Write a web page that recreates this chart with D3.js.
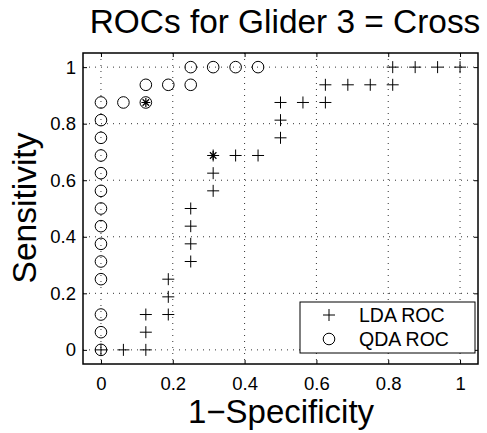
<!DOCTYPE html>
<html>
<head>
<meta charset="utf-8">
<script src="https://cdn.jsdelivr.net/npm/d3@7/dist/d3.min.js"></script>
<style>
  html, body { margin: 0; padding: 0; background: #fff; }
  svg { display: block; font-family: "Liberation Sans", Arial, Helvetica, sans-serif; }
</style>
</head>
<body>
<svg id="chart" width="487" height="433"></svg>
<script>
// ---- data ----
const titleText = "ROCs for Glider 3 = Cross";
const xLabelText = "1\u2212Specificity";
const yLabelText = "Sensitivity";
const tickValues = [0, 0.2, 0.4, 0.6, 0.8, 1];
const tickLabels = ["0", "0.2", "0.4", "0.6", "0.8", "1"];
const seriesNames = ["LDA ROC", "QDA ROC"];

const ldaX = [0, 0.0625, 0.125, 0.125, 0.125, 0.1875, 0.1875, 0.1875, 0.25, 0.25, 0.25, 0.25,
              0.3125, 0.3125, 0.3125, 0.375, 0.4375, 0.5, 0.5, 0.5, 0.5625, 0.625, 0.625,
              0.6875, 0.75, 0.8125, 0.8125, 0.875, 0.9375, 1];
const ldaY = [0, 0, 0, 0.0625, 0.125, 0.125, 0.1875, 0.25, 0.3125, 0.375, 0.4375, 0.5,
              0.5625, 0.625, 0.6875, 0.6875, 0.6875, 0.75, 0.8125, 0.875, 0.875, 0.875, 0.9375,
              0.9375, 0.9375, 0.9375, 1, 1, 1, 1];

const qdaX = [0, 0, 0, 0, 0, 0, 0, 0, 0, 0, 0, 0, 0, 0,
              0.0625, 0.125, 0.125, 0.1875, 0.25, 0.25, 0.3125, 0.375, 0.4375];
const qdaY = [0, 0.0625, 0.125, 0.25, 0.3125, 0.375, 0.4375, 0.5, 0.5625, 0.625, 0.6875, 0.75, 0.8125, 0.875,
              0.875, 0.875, 0.9375, 0.9375, 0.9375, 1, 1, 1, 1];

// operating points (asterisks)
const opX = [0.3125, 0.125];
const opY = [0.6875, 0.875];

// ---- layout ----
const svg = d3.select("#chart");
const axLeft = 83, axRight = 478, axTop = 53, axBottom = 364;
const x = d3.scaleLinear().domain([-0.05, 1.05]).range([axLeft, axRight]);
const y = d3.scaleLinear().domain([-0.05, 1.05]).range([axBottom, axTop]);

// grid
const grid = svg.append("g").attr("stroke", "#333").attr("stroke-width", 1)
  .attr("stroke-dasharray", "1,5");
grid.selectAll("line.gx").data(tickValues).enter().append("line")
  .attr("x1", d => x(d)).attr("x2", d => x(d)).attr("y1", axTop).attr("y2", axBottom);
grid.selectAll("line.gy").data(tickValues).enter().append("line")
  .attr("y1", d => y(d)).attr("y2", d => y(d)).attr("x1", axLeft).attr("x2", axRight);

// axes with inward ticks
const tickLen = 4;
const fmt = (d, i) => tickLabels[i];
const axB = svg.append("g").attr("transform", `translate(0,${axBottom})`)
  .call(d3.axisBottom(x).tickValues(tickValues).tickFormat(fmt).tickSizeInner(-tickLen).tickSizeOuter(0).tickPadding(13));
const axL = svg.append("g").attr("transform", `translate(${axLeft},0)`)
  .call(d3.axisLeft(y).tickValues(tickValues).tickFormat(fmt).tickSizeInner(-tickLen).tickSizeOuter(0).tickPadding(7));
const axT = svg.append("g").attr("transform", `translate(0,${axTop})`)
  .call(d3.axisTop(x).tickValues(tickValues).tickFormat("").tickSizeInner(-tickLen).tickSizeOuter(0));
const axR = svg.append("g").attr("transform", `translate(${axRight},0)`)
  .call(d3.axisRight(y).tickValues(tickValues).tickFormat("").tickSizeInner(-tickLen).tickSizeOuter(0));
[axB, axL, axT, axR].forEach(a => {
  a.select(".domain").remove();
  a.selectAll(".tick line").attr("stroke", "#000").attr("stroke-width", 1);
  a.selectAll("text").attr("font-size", 18.5).attr("fill", "#000")
   .attr("font-family", "Liberation Sans, Arial, sans-serif");
});
axB.selectAll("text").attr("dy", "0.71em");

// box
svg.append("rect").attr("x", axLeft).attr("y", axTop).attr("width", axRight - axLeft).attr("height", axBottom - axTop)
  .attr("fill", "none").attr("stroke", "#000").attr("stroke-width", 1.5);

// markers
const plusSize = 6, circR = 5.8, starSize = 4.5;
function drawPlus(g, px, py, s) {
  g.append("path").attr("d", `M${px - s},${py}H${px + s}M${px},${py - s}V${py + s}`)
    .attr("stroke", "#000").attr("stroke-width", 1).attr("fill", "none");
}
function drawCircle(g, px, py, r) {
  g.append("circle").attr("cx", px).attr("cy", py).attr("r", r)
    .attr("stroke", "#000").attr("stroke-width", 1).attr("fill", "none");
}
function drawStar(g, px, py, s) {
  const d = s * 0.72;
  g.append("path").attr("d",
    `M${px - s},${py}H${px + s}M${px},${py - s}V${py + s}M${px - d},${py - d}L${px + d},${py + d}M${px - d},${py + d}L${px + d},${py - d}`)
    .attr("stroke", "#000").attr("stroke-width", 1.2).attr("fill", "none");
}
const marks = svg.append("g");
qdaX.forEach((v, i) => drawCircle(marks, x(v), y(qdaY[i]), circR));
ldaX.forEach((v, i) => drawPlus(marks, x(v), y(ldaY[i]), plusSize));
opX.forEach((v, i) => drawStar(marks, x(v), y(opY[i]), starSize));

// legend
const lg = svg.append("g");
lg.append("rect").attr("x", 300).attr("y", 302).attr("width", 175).attr("height", 51)
  .attr("fill", "#fff").attr("stroke", "#000").attr("stroke-width", 1);
drawPlus(lg, 329, 315, plusSize);
drawCircle(lg, 329, 339, circR);
lg.append("text").attr("x", 359).attr("y", 322).attr("font-size", 19.5).text(seriesNames[0]);
lg.append("text").attr("x", 359).attr("y", 346).attr("font-size", 19.5).text(seriesNames[1]);

// titles
svg.append("text").attr("x", 285).attr("y", 33).attr("text-anchor", "middle")
  .attr("font-size", 33.4).text(titleText);
svg.append("text").attr("x", 281).attr("y", 423).attr("text-anchor", "middle")
  .attr("font-size", 33).text(xLabelText);
svg.append("text").attr("transform", "translate(36,208) rotate(-90)").attr("text-anchor", "middle")
  .attr("font-size", 33.5).text(yLabelText);
</script>
</body>
</html>
